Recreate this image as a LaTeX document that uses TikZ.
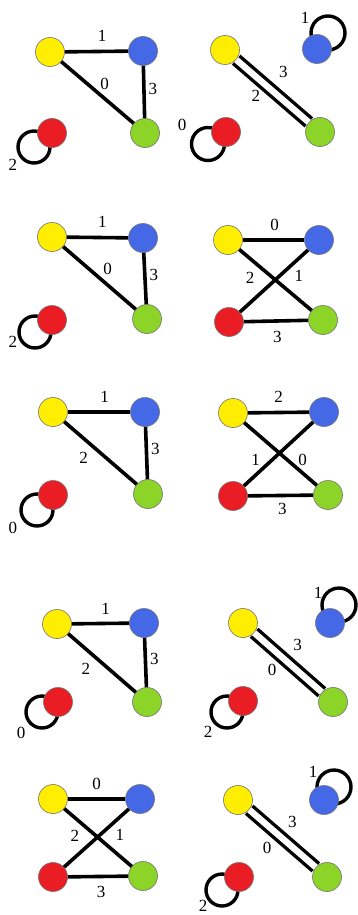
\documentclass[tikz,border=0pt]{standalone}
\usepackage{fontspec}
\setmainfont{Liberation Serif}
\usetikzlibrary{backgrounds}
\definecolor{vyel}{RGB}{255,238,0}
\definecolor{vblu}{RGB}{68,104,230}
\definecolor{vgrn}{RGB}{140,212,40}
\definecolor{vred}{RGB}{234,28,36}
\begin{document}
\begin{tikzpicture}[x=1pt,y=-1pt,
    vert/.style={circle,draw=black!55,line width=0.6pt,minimum size=29pt,inner sep=0pt},
    yv/.style={vert,fill=vyel}, bv/.style={vert,fill=vblu},
    gv/.style={vert,fill=vgrn}, rv/.style={vert,fill=vred},
    ln/.style={line width=3.6pt},
    dbl/.style={line width=3.4pt,double=white,double distance=6.4pt},
    lp/.style={line width=3.4pt},
    lbl/.style={inner sep=1pt,font=\fontsize{17}{17}\selectfont}]
    \useasboundingbox (0,0) rectangle (358,915);

    % row 1
    \node[yv] (y1) at (50,52) {};
    \node[bv] (b1) at (143,51) {};
    \node[gv] (g1) at (145,133) {};
    \node[rv] (r1) at (52,133) {};
    \draw[ln] (y1) -- (b1) node[lbl,pos=.59,above=7pt] (e1a) {1};
    \draw[ln] (y1) -- (g1) node[lbl,pos=.5,above right] (e1b) {0};
    \draw[ln] (b1) -- (g1) node[lbl,pos=.44,right=2pt] (e1c) {3};
    \node[lbl] (e1d) at (13,165) {2};

    \node[yv] (y2) at (225,50) {};
    \node[bv] (b2) at (317,49) {};
    \node[gv] (g2) at (320,132) {};
    \node[rv] (r2) at (226,132) {};
    \draw[dbl] (y2) -- (g2) node[lbl,pos=.45,above right=7.5pt] (e2a) {3}
        node[lbl,pos=.4,below left=2.5pt] (e2b) {2};
    \node[lbl] (e2c) at (305,18) {1};
    \node[lbl] (e2d) at (182,125) {0};

    % row 2
    \node[yv] (y3) at (52,237) {};
    \node[bv] (b3) at (143,238) {};
    \node[gv] (g3) at (147,319) {};
    \node[rv] (r3) at (52,320) {};
    \draw[ln] (y3) -- (b3) node[lbl,pos=.58,above=7pt] (e3a) {1};
    \draw[ln] (y3) -- (g3) node[lbl,pos=.5,above right=1pt] (e3b) {0};
    \draw[ln] (b3) -- (g3) node[lbl,pos=.43,right=2pt] (e3c) {3};
    \node[lbl] (e3d) at (13,342) {2};

    \node[yv] (y4) at (228,240) {};
    \node[bv] (b4) at (319,240) {};
    \node[gv] (g4) at (323,320) {};
    \node[rv] (r4) at (229,322) {};
    \draw[ln] (y4) -- (b4) node[lbl,pos=.52,above=7pt] (e4a) {0};
    \draw[ln] (y4) -- (g4) node[lbl,pos=.28,below left=2.5pt] (e4b) {2};
    \draw[ln] (r4) -- (b4) node[lbl,pos=.74,below right=1.5pt] (e4c) {1};
    \draw[ln] (r4) -- (g4) node[lbl,pos=.52,below=7pt] (e4d) {3};

    % row 3
    \node[yv] (y5) at (53,412) {};
    \node[bv] (b5) at (145,412) {};
    \node[gv] (g5) at (148,494) {};
    \node[rv] (r5) at (53,495) {};
    \draw[ln] (y5) -- (b5) node[lbl,pos=.59,above=7pt] (e5a) {1};
    \draw[ln] (y5) -- (g5) node[lbl,pos=.4,below left=2.5pt] (e5b) {2};
    \draw[ln] (b5) -- (g5) node[lbl,pos=.43,right=2pt] (e5c) {3};
    \node[lbl] (e5d) at (13,528) {0};

    \node[yv] (y6) at (233,413) {};
    \node[bv] (b6) at (324,412) {};
    \node[gv] (g6) at (328,495) {};
    \node[rv] (r6) at (233,496) {};
    \draw[ln] (y6) -- (b6) node[lbl,pos=.5,above=7pt] (e6a) {2};
    \draw[ln] (y6) -- (g6) node[lbl,pos=.72,above right=-1pt] (e6b) {0};
    \draw[ln] (r6) -- (b6) node[lbl,pos=.27,above left=0pt] (e6c) {1};
    \draw[ln] (r6) -- (g6) node[lbl,pos=.53,below=5pt] (e6d) {3};

    % row 4
    \node[yv] (y7) at (57,624) {};
    \node[bv] (b7) at (144,623) {};
    \node[gv] (g7) at (147,702) {};
    \node[rv] (r7) at (58,702) {};
    \draw[ln] (y7) -- (b7) node[lbl,pos=.59,above=6pt] (e7a) {1};
    \draw[ln] (y7) -- (g7) node[lbl,pos=.41,below left=3pt] (e7b) {2};
    \draw[ln] (b7) -- (g7) node[lbl,pos=.43,right=2pt] (e7c) {3};
    \node[lbl] (e7d) at (21,733) {0};

    \node[yv] (y8) at (243,623) {};
    \node[bv] (b8) at (330,623) {};
    \node[gv] (g8) at (333,702) {};
    \node[rv] (r8) at (243,701) {};
    \draw[dbl] (y8) -- (g8) node[lbl,pos=.45,above right=6pt] (e8a) {3}
        node[lbl,pos=.42,below left=3.5pt] (e8b) {0};
    \node[lbl] (e8c) at (318,593) {1};
    \node[lbl] (e8d) at (208,732) {2};

    % row 5
    \node[yv] (y9) at (53,799) {};
    \node[bv] (b9) at (140,799) {};
    \node[gv] (g9) at (143,876) {};
    \node[rv] (r9) at (53,877) {};
    \draw[ln] (y9) -- (b9) node[lbl,pos=.5,above=7pt] (e9a) {0};
    \draw[ln] (y9) -- (g9) node[lbl,pos=.29,below left=2pt] (e9b) {2};
    \draw[ln] (r9) -- (b9) node[lbl,pos=.73,below right=1.5pt] (e9c) {1};
    \draw[ln] (r9) -- (g9) node[lbl,pos=.55,below=7pt] (e9d) {3};

    \node[yv] (y10) at (238,800) {};
    \node[bv] (b10) at (324,800) {};
    \node[gv] (g10) at (327,877) {};
    \node[rv] (r10) at (239,877) {};
    \draw[dbl] (y10) -- (g10) node[lbl,pos=.46,above right=5.5pt] (e10a) {3}
        node[lbl,pos=.44,below left=4.5pt] (e10b) {0};
    \node[lbl] (e10c) at (313,772) {1};
    \node[lbl] (e10d) at (203,906) {2};

    % loops behind the vertices
    \begin{scope}[on background layer]
        \draw[lp] ([shift={(-18,14)}]r1.center) circle (16);
        \draw[lp] ([shift={(11,-16)}]b2.center) circle (17);
        \draw[lp] ([shift={(-18,12)}]r2.center) circle (16.5);
        \draw[lp] ([shift={(-17,12)}]r3.center) circle (16);
        \draw[lp] ([shift={(-16,15)}]r5.center) circle (16);
        \draw[lp] ([shift={(-16,10)}]r7.center) circle (16);
        \draw[lp] ([shift={(9,-18)}]b8.center) circle (17);
        \draw[lp] ([shift={(-16,11)}]r8.center) circle (16);
        \draw[lp] ([shift={(10,-13)}]b10.center) circle (17);
        \draw[lp] ([shift={(-17,13)}]r10.center) circle (16);
    \end{scope}
\end{tikzpicture}
\end{document}
